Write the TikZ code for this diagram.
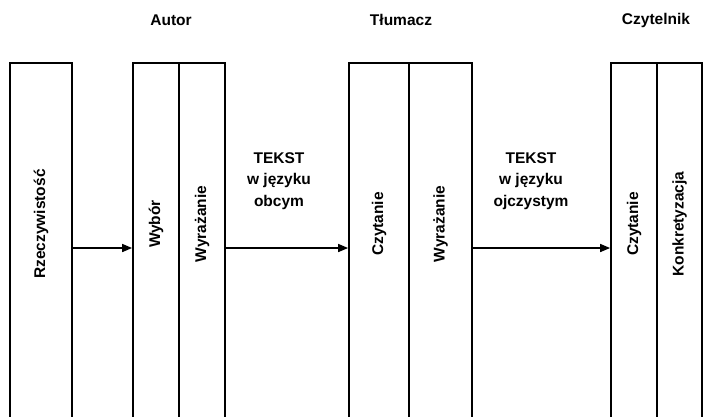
\documentclass[tikz,border=0pt]{standalone}
\usepackage{fontspec}
\setmainfont{Liberation Sans}
\usetikzlibrary{arrows.meta}

\begin{document}
\begin{tikzpicture}[
    x=1pt, y=-1pt, font=\fontsize{15.5}{21.5}\selectfont\bfseries,
    col/.style={draw=black, line width=1.8pt, rectangle, inner sep=0pt,
                minimum height=370pt},
    vtxt/.style={rotate=90, inner sep=1pt},
    head/.style={inner sep=1pt},
    txt/.style={align=center, inner sep=1pt},
    flow/.style={-{Triangle[length=10pt, width=8pt]}, line width=1.6pt},
]
\useasboundingbox (0,0) rectangle (703,416);

% ===================== Nagłówki =====================
\node[head] (autor) at (171,20) {Autor};
\node[head] (tlum)  at (401,20) {Tłumacz};
\node[head] (czyt)  at (656,20) {Czytelnik};

% ===================== Kolumny (dół poza stroną) =====================
\node[col, minimum width=62pt] (rzecz) at (41,248) {};

\node[col, minimum width=46pt] (wybor) at (156,248) {};
\node[col, minimum width=46pt] (wyrA)  at (202,248) {};

\node[col, minimum width=60pt] (czytT) at (379,248) {};
\node[col, minimum width=63pt] (wyrT)  at (440.5,248) {};

\node[col, minimum width=46pt] (czytC) at (634,248) {};
\node[col, minimum width=45pt] (konk)  at (679.5,248) {};

% ===================== Napisy w kolumnach =====================
\node[vtxt] (l-rzecz) at ([yshift=24pt]rzecz.center) {Rzeczywistość};
\node[vtxt] (l-wybor) at ([yshift=24pt]wybor.center) {Wybór};
\node[vtxt] (l-wyrA)  at ([yshift=24pt]wyrA.center)  {Wyrażanie};
\node[vtxt] (l-czytT) at ([yshift=24pt]czytT.center) {Czytanie};
\node[vtxt] (l-wyrT)  at ([yshift=24pt]wyrT.center)  {Wyrażanie};
\node[vtxt] (l-czytC) at ([yshift=24pt]czytC.center) {Czytanie};
\node[vtxt] (l-konk)  at ([yshift=24pt]konk.center)  {Konkretyzacja};

% ===================== Teksty =====================
\node[txt] (tekstA) at (279,181) {TEKST\\w języku\\obcym};
\node[txt] (tekstB) at (531,181) {TEKST\\w języku\\ojczystym};

% ===================== Strzałki =====================
\draw[flow] (rzecz) -- (wybor);
\draw[flow] (wyrA) -- (czytT);
\draw[flow] (wyrT) -- (czytC);

\end{tikzpicture}
\end{document}
